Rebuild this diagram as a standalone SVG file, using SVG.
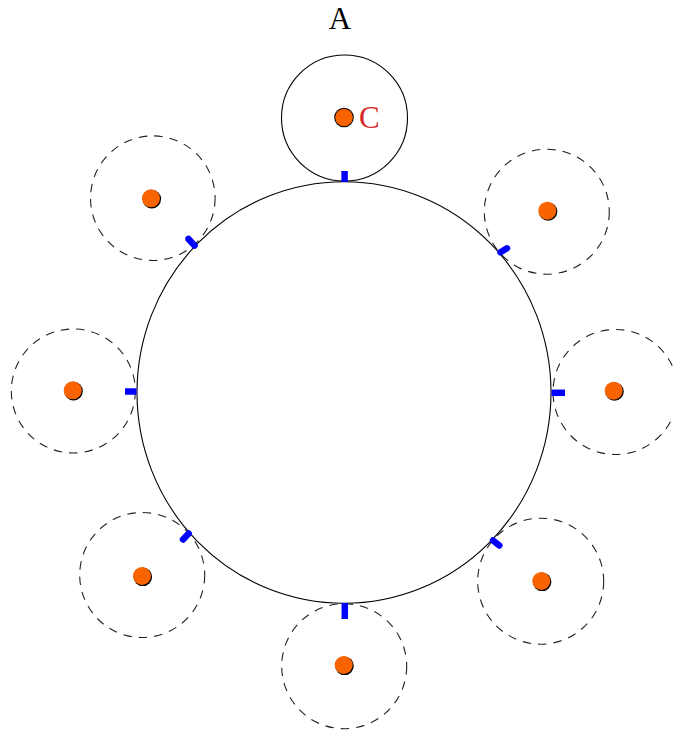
<svg xmlns="http://www.w3.org/2000/svg" width="673" height="731" viewBox="0 0 673 731">
<style>
.solid{fill:none;stroke:#000;stroke-width:1.1}
.dash{fill:none;stroke:#222;stroke-width:1.1;stroke-dasharray:8.5 7}
.dotb{fill:#000}
.dot{fill:#fa6400}
.tick{stroke:#0000ff;stroke-width:6.5;fill:none}
.tickr{stroke:#0000ff;stroke-width:6.5;stroke-linecap:round;fill:none}
.lbl{font-family:"Liberation Serif","DejaVu Serif",serif;font-size:31px}
</style>
<rect width="673" height="731" fill="#fff"/>
<g id="main">
<ellipse class="solid" cx="344" cy="392.5" rx="207" ry="210.8"/>
</g>
<g id="A">
<text class="lbl" x="340" y="29" text-anchor="middle" fill="#000">A</text>
<circle class="solid" cx="344.5" cy="118" r="63"/>
<circle cx="344" cy="117.5" r="9.8" fill="#000"/>
<circle class="dot" cx="344" cy="117.5" r="8.8"/>
<text class="lbl" x="359" y="128" fill="#d62728">C</text>
</g>
<g id="n_ul"><circle class="dash" cx="152.8" cy="198.2" r="62.3"/><circle class="dotb" cx="151.8" cy="199.1" r="9.3"/><circle class="dot" cx="151" cy="198.3" r="9"/></g>
<g id="n_ur"><circle class="dash" cx="546.8" cy="211.7" r="62.5"/><circle class="dotb" cx="548.1" cy="211.5" r="9.3"/><circle class="dot" cx="547.3" cy="210.7" r="9"/></g>
<g id="n_l"><circle class="dash" cx="73.3" cy="391" r="62"/><circle class="dotb" cx="73.5" cy="391.1" r="9.3"/><circle class="dot" cx="72.7" cy="390.3" r="9"/></g>
<g id="n_r"><circle class="dash" cx="615.5" cy="392" r="62.5"/><circle class="dotb" cx="614.5" cy="391.5" r="9.3"/><circle class="dot" cx="613.7" cy="390.7" r="9"/></g>
<g id="n_ll"><circle class="dash" cx="142.2" cy="575" r="62.5"/><circle class="dotb" cx="142.8" cy="576.8" r="9.3"/><circle class="dot" cx="142" cy="576" r="9"/></g>
<g id="n_lr"><circle class="dash" cx="540.7" cy="581.2" r="63"/><circle class="dotb" cx="542.1" cy="581.8" r="9.3"/><circle class="dot" cx="541.3" cy="581" r="9"/></g>
<g id="n_b"><circle class="dash" cx="344.2" cy="666.2" r="62.5"/><circle class="dotb" cx="344.5" cy="665.8" r="9.3"/><circle class="dot" cx="343.7" cy="665" r="9"/></g>
<g id="connectors">
<line class="tick" x1="344.6" y1="171" x2="344.6" y2="182"/>
<line class="tick" x1="344.8" y1="603" x2="344.8" y2="619"/>
<line class="tick" x1="125" y1="391.5" x2="136.5" y2="391.5"/>
<line class="tick" x1="551.5" y1="392.8" x2="565" y2="392.8"/>
<line class="tickr" x1="188.5" y1="239" x2="194.5" y2="245.5"/>
<line class="tickr" x1="500.5" y1="252.3" x2="507" y2="248.3"/>
<line class="tickr" x1="183" y1="539.5" x2="188.7" y2="533.5"/>
<line class="tickr" x1="493" y1="540.5" x2="499.3" y2="545.5"/>
</g>
</svg>
